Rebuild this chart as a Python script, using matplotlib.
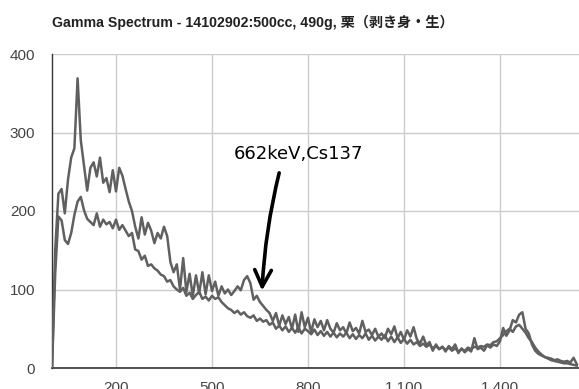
import matplotlib
matplotlib.use('Agg')
import matplotlib.pyplot as plt
from matplotlib.ticker import FuncFormatter

# energy grid (keV) shared by both spectra
energy = list(range(0, 1650, 10))

counts_a = [
    0, 150, 222, 228, 197, 240, 268, 280, 369, 290,
    258, 226, 255, 262, 244, 268, 236, 242, 224, 252,
    225, 255, 245, 228, 212, 200, 180, 165, 192, 170,
    185, 175, 159, 172, 165, 180, 168, 135, 122, 132,
    100, 140, 97, 120, 92, 118, 95, 122, 94, 118,
    98, 110, 92, 104, 95, 100, 93, 98, 104, 99,
    112, 117, 108, 87, 92, 84, 79, 74, 70, 60,
    70, 54, 67, 56, 65, 50, 68, 46, 71, 52,
    64, 46, 62, 52, 60, 48, 61, 50, 45, 57,
    48, 52, 44, 58, 47, 51, 44, 60, 46, 49,
    42, 50, 40, 44, 38, 50, 43, 53, 38, 46,
    36, 48, 40, 52, 37, 31, 40, 29, 33, 22,
    30, 24, 27, 21, 28, 24, 30, 19, 25, 20,
    24, 21, 38, 24, 26, 22, 29, 26, 30, 28,
    34, 51, 41, 48, 61, 58, 68, 71, 50, 44,
    30, 22, 18, 16, 14, 13, 12, 10, 11, 9,
    8, 9, 7, 13, 5,
]

counts_b = [
    0, 120, 193, 188, 163, 158, 172, 195, 212, 218,
    201, 190, 186, 182, 197, 180, 189, 183, 186, 178,
    189, 176, 182, 175, 168, 172, 151, 149, 138, 143,
    130, 132, 127, 124, 119, 117, 110, 112, 104, 100,
    97, 102, 92, 96, 88, 93, 97, 88, 91, 86,
    92, 88, 90, 84, 80, 76, 74, 70, 73, 68,
    71, 66, 64, 67, 60, 63, 59, 61, 55, 58,
    50, 54, 48, 53, 46, 51, 45, 52, 44, 50,
    47, 43, 49, 42, 47, 41, 46, 40, 45, 39,
    44, 40, 45, 38, 43, 37, 42, 38, 44, 36,
    41, 35, 40, 36, 42, 34, 40, 33, 39, 32,
    37, 31, 36, 30, 33, 28, 31, 27, 30, 25,
    28, 24, 27, 23, 26, 22, 25, 21, 24, 22,
    26, 24, 27, 26, 28, 27, 30, 29, 33, 34,
    38, 42, 47, 50, 46, 53, 55, 50, 45, 38,
    33, 26, 21, 17, 14, 12, 10, 9, 8, 7,
    6, 6, 5, 4, 3,
]

x_ticks = [200, 500, 800, 1100, 1400]
y_ticks = [0, 100, 200, 300, 400]

title = 'Gamma Spectrum - 14102902:500cc, 490g, 栗（剥き身・生）'
note = '662keV,Cs137'

plt.rcParams['font.family'] = ['Liberation Sans', 'Noto Sans CJK JP', 'DejaVu Sans']

fig = plt.figure(figsize=(5.79, 3.89), dpi=100)
ax = fig.add_axes([52 / 579, 21 / 389, 527 / 579, 314 / 389])

line_col = '#606060'
ax.plot(energy, counts_a, color=line_col, linewidth=1.8, solid_joinstyle='round', zorder=3)
ax.plot(energy, counts_b, color=line_col, linewidth=1.8, solid_joinstyle='round', zorder=3)

ax.set_xlim(0, 1647)
ax.set_ylim(0, 400)
ax.set_xticks(x_ticks)
ax.set_yticks(y_ticks)
ax.xaxis.set_major_formatter(FuncFormatter(lambda v, p: f'{int(v):,}'))
ax.grid(True, color='#cccccc', linewidth=1, zorder=0)
ax.tick_params(length=0, labelsize=11, colors='#444444')
ax.tick_params(axis='y', pad=12)
ax.tick_params(axis='x', pad=9)

for side in ['top', 'right']:
    ax.spines[side].set_visible(False)
ax.spines['left'].set_color('#333333')
ax.spines['bottom'].set_color('#333333')
ax.spines['left'].set_linewidth(1)
ax.spines['bottom'].set_linewidth(1.2)

fig.text(52 / 579, 1 - 22 / 389, title, fontsize=10.2, fontweight='bold',
         color='#222222', ha='left', va='center')

# hand-drawn Cs137 marker
ax.text(770, 272, note, fontsize=13, family='DejaVu Sans', color='black',
        ha='center', va='center', zorder=5)
ax.annotate('', xy=(656, 95), xytext=(712, 252),
            arrowprops=dict(arrowstyle='->,head_length=1.2,head_width=0.6',
                            color='black', lw=2.6,
                            connectionstyle='arc3,rad=0.05'),
            zorder=5)

fig.savefig('out.png', dpi=100, facecolor='white')
